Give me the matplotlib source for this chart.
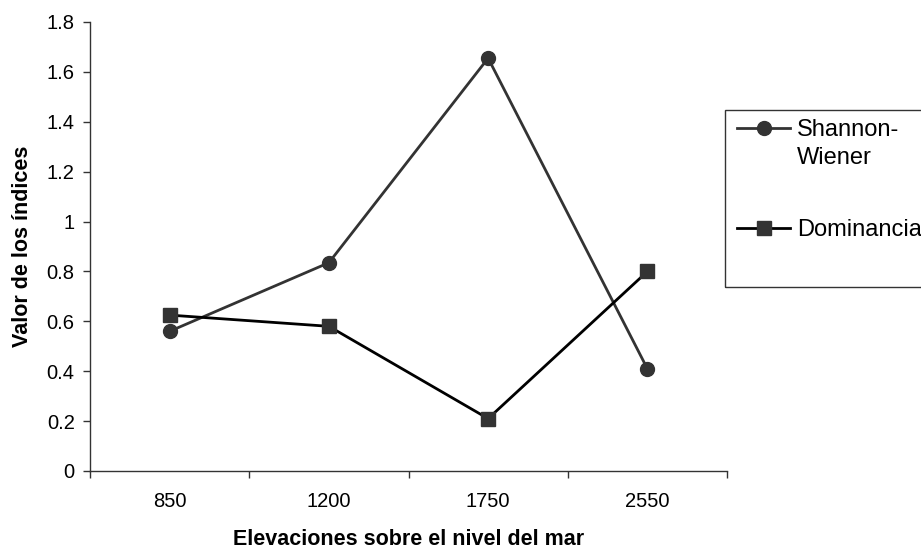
import matplotlib
matplotlib.use("Agg")
import matplotlib.pyplot as plt
from matplotlib.lines import Line2D
from matplotlib.patches import Rectangle

plt.rcParams['font.family'] = ['Liberation Sans', 'DejaVu Sans']

elevaciones = ["850", "1200", "1750", "2550"]
shannon_wiener = [0.56, 0.835, 1.655, 0.41]
dominancia = [0.625, 0.58, 0.21, 0.80]
y_ticks = [0, 0.2, 0.4, 0.6, 0.8, 1, 1.2, 1.4, 1.6, 1.8]
y_tick_labels = ["0", "0.2", "0.4", "0.6", "0.8", "1", "1.2", "1.4", "1.6", "1.8"]

W, H = 921, 550
fig = plt.figure(figsize=(W / 100, H / 100), dpi=100)
ax = fig.add_axes([90 / W, 1 - 471 / H, (727 - 90) / W, (471 - 22) / H])

x = list(range(len(elevaciones)))
sw_style = dict(color="#333333", lw=2, marker="o", markersize=10,
                markerfacecolor="#333333", markeredgecolor="#333333")
dom_style = dict(color="#000000", lw=2, marker="s", markersize=9.5,
                 markerfacecolor="#333333", markeredgecolor="#333333")
ax.plot(x, shannon_wiener, **sw_style, clip_on=False)
ax.plot(x, dominancia, **dom_style, clip_on=False)

ax.set_xlim(-0.5, len(elevaciones) - 0.5)
ax.set_ylim(0, 1.8)
ax.set_yticks(y_ticks)
ax.set_yticklabels(y_tick_labels)

# category labels centred, tick marks between categories
ax.set_xticks(x)
ax.set_xticklabels(elevaciones)
ax.set_xticks([i - 0.5 for i in range(len(elevaciones) + 1)], minor=True)
ax.tick_params(axis="x", which="major", length=0, pad=15, labelsize=14.5)
ax.tick_params(axis="x", which="minor", length=5, width=1, direction="out", color="#333333")
ax.tick_params(axis="y", length=5, width=1, direction="out", labelsize=14.5,
               color="#333333", pad=6)

for side in ("top", "right"):
    ax.spines[side].set_visible(False)
for side in ("left", "bottom"):
    ax.spines[side].set_color("#333333")
    ax.spines[side].set_linewidth(1)

ax.set_xlabel("Elevaciones sobre el nivel del mar", fontsize=15.5, fontweight="bold", labelpad=13)
ax.set_ylabel("Valor de los índices", fontsize=15.5, fontweight="bold", labelpad=10)

# legend box drawn in figure pixels
def fx(px):
    return px / W

def fy(py):
    return 1 - py / H

fig.patches.append(Rectangle((fx(725), fy(287)), fx(930) - fx(725), fy(110) - fy(287),
                             transform=fig.transFigure, fill=False,
                             edgecolor="#333333", lw=1, figure=fig))
legend_rows = [(128, sw_style, "Shannon-\nWiener"),
               (228, dom_style, "Dominancia")]
for row_y, style, label in legend_rows:
    line_style = {k: v for k, v in style.items() if k != "marker"}
    fig.add_artist(Line2D([fx(737), fx(790)], [fy(row_y), fy(row_y)],
                          transform=fig.transFigure, **line_style))
    fig.add_artist(Line2D([fx(763.5)], [fy(row_y)], transform=fig.transFigure, **style))
    lines = label.split("\n")
    for i, part in enumerate(lines):
        fig.text(fx(797), fy(row_y + 28 * i), part, fontsize=17,
                 va="center_baseline", ha="left")

fig.savefig("out.png", dpi=100)
